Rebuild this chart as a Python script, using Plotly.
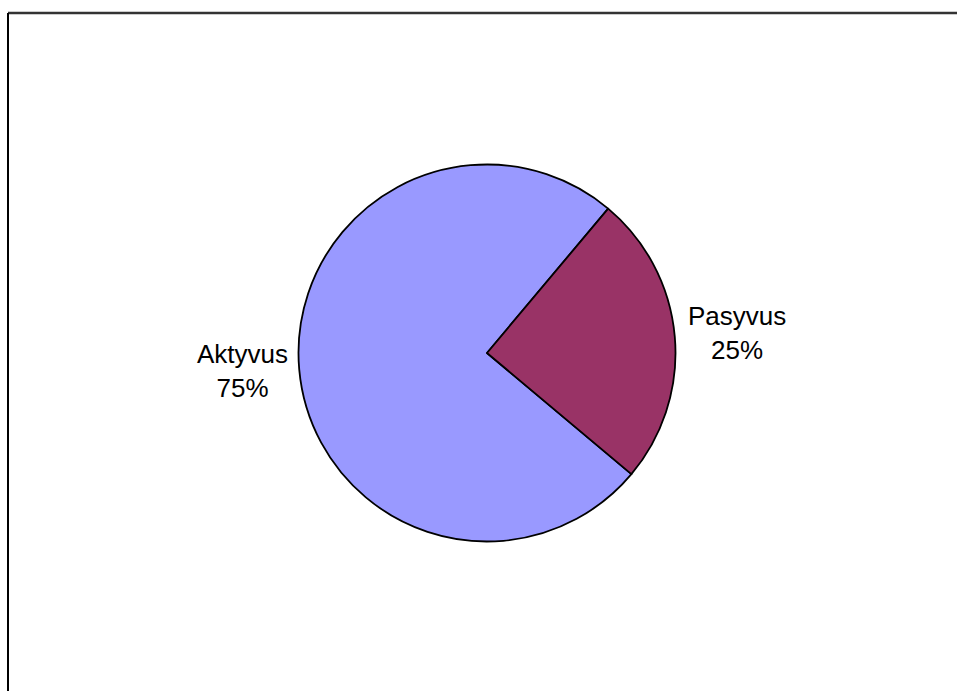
import plotly.graph_objects as go

labels = ["Aktyvus", "Pasyvus"]
values = [75, 25]
colors = ["#9999FF", "#993366"]

W, H = 957, 691

# pie placement in pixels (centre and radius)
cx, cy, r = 487, 353, 188.5

fig = go.Figure(go.Pie(
    labels=labels,
    values=values,
    marker=dict(colors=colors, line=dict(color="black", width=1.8)),
    sort=False,
    direction="clockwise",
    rotation=130,
    textinfo="none",
    hoverinfo="label+percent",
    domain=dict(x=[(cx - r) / W, (cx + r) / W],
                y=[(H - cy - r) / H, (H - cy + r) / H]),
    showlegend=False,
))

total = sum(values)
label_pos = {"Aktyvus": (242, 371), "Pasyvus": (737, 333)}
for lab, val in zip(labels, values):
    px, py = label_pos[lab]
    fig.add_annotation(
        x=px / W, y=1 - py / H, xref="paper", yref="paper",
        xanchor="center", yanchor="middle",
        text=f"{lab}<br>{round(100 * val / total)}%",
        showarrow=False, align="center",
        font=dict(family="Liberation Sans, Arial, sans-serif", size=26, color="black"),
    )

# chart area frame (top and left edges)
fig.add_shape(type="line", xref="paper", yref="paper",
              x0=8 / W, y0=1 - 13 / H, x1=1.01, y1=1 - 13 / H,
              line=dict(color="#333333", width=2.5))
fig.add_shape(type="line", xref="paper", yref="paper",
              x0=8 / W, y0=1 - 13 / H, x1=8 / W, y1=-0.01,
              line=dict(color="black", width=2))

fig.update_layout(
    width=W, height=H,
    margin=dict(l=0, r=0, t=0, b=0),
    paper_bgcolor="white", plot_bgcolor="white",
)

fig.write_html("out.html")
